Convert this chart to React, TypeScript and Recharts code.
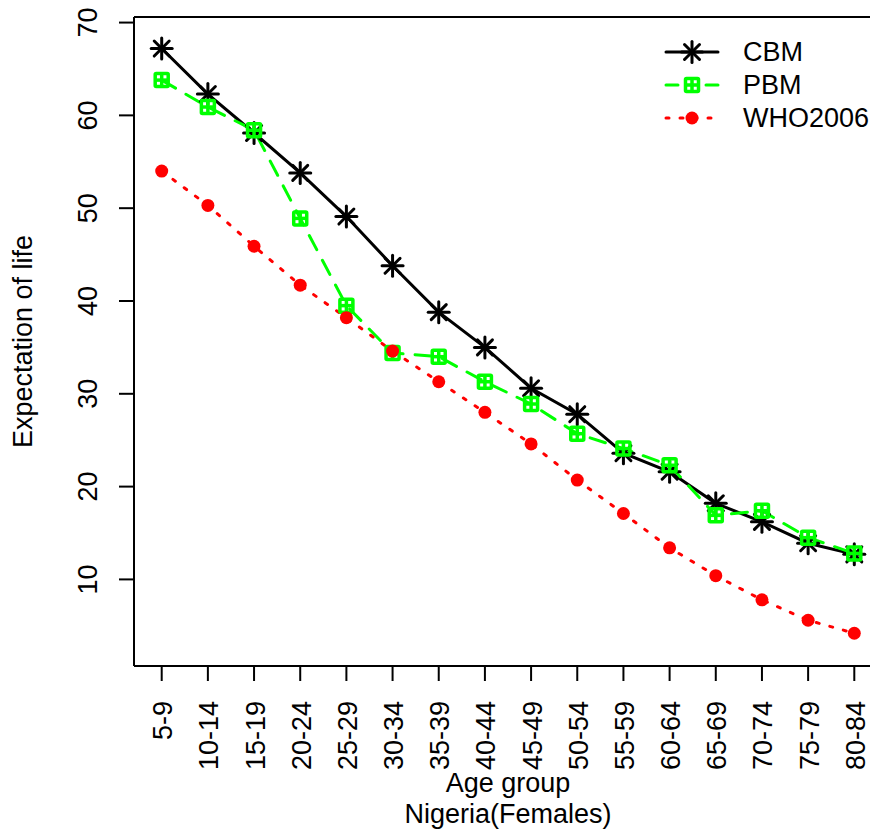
import { LineChart, Line, XAxis, YAxis, ReferenceLine, Legend, Label } from "recharts";

const ageGroups = [
  "5-9", "10-14", "15-19", "20-24", "25-29", "30-34", "35-39", "40-44",
  "45-49", "50-54", "55-59", "60-64", "65-69", "70-74", "75-79", "80-84",
];
const cbm = [67.2, 62.3, 58.1, 53.8, 49.1, 43.8, 38.8, 35.0, 30.6, 27.8, 23.6, 21.6, 18.2, 16.2, 13.9, 12.7];
const pbm = [63.8, 60.9, 58.4, 48.9, 39.5, 34.4, 34.0, 31.3, 28.9, 25.7, 24.1, 22.3, 16.9, 17.4, 14.5, 12.8];
const who2006 = [54.0, 50.3, 45.9, 41.7, 38.2, 34.6, 31.3, 28.0, 24.6, 20.7, 17.1, 13.4, 10.4, 7.8, 5.6, 4.2];
const yTicks = [10, 20, 30, 40, 50, 60, 70];
const xTicks = ageGroups.map((_, i) => i + 1);

const seriesNames = ["CBM", "PBM", "WHO2006"];

const FONT = "'Liberation Sans', Arial, Helvetica, sans-serif";
const BLACK = "#000000";
const GREEN = "#00ff00";
const RED = "#ff0000";

const data = ageGroups.map((g, i) => ({
  pos: i + 1,
  group: g,
  CBM: cbm[i],
  PBM: pbm[i],
  WHO2006: who2006[i],
}));

const Star = ({ cx, cy }: { cx: number; cy: number }) => (
  <g stroke={BLACK} strokeWidth={3} strokeLinecap="round">
    <line x1={cx - 10.5} y1={cy} x2={cx + 10.5} y2={cy} />
    <line x1={cx} y1={cy - 10.5} x2={cx} y2={cy + 10.5} />
    <line x1={cx - 7.5} y1={cy - 7.5} x2={cx + 7.5} y2={cy + 7.5} />
    <line x1={cx - 7.5} y1={cy + 7.5} x2={cx + 7.5} y2={cy - 7.5} />
  </g>
);

const BoxPlus = ({ cx, cy }: { cx: number; cy: number }) => (
  <g stroke={GREEN} strokeWidth={3.5} fill="none">
    <rect x={cx - 6.5} y={cy - 6.5} width={13} height={13} rx={1} />
    <line x1={cx - 6.5} y1={cy} x2={cx + 6.5} y2={cy} />
    <line x1={cx} y1={cy - 6.5} x2={cx} y2={cy + 6.5} />
  </g>
);

const Dot = ({ cx, cy }: { cx: number; cy: number }) => (
  <circle cx={cx} cy={cy} r={6.5} fill={RED} stroke="none" />
);

const renderMarker = (name: string, cx: number, cy: number) => {
  if (name === "CBM") return <Star cx={cx} cy={cy} />;
  if (name === "PBM") return <BoxPlus cx={cx} cy={cy} />;
  return <Dot cx={cx} cy={cy} />;
};

const lineStyle: Record<string, { stroke: string; dash?: string }> = {
  CBM: { stroke: BLACK },
  PBM: { stroke: GREEN, dash: "16 12" },
  WHO2006: { stroke: RED, dash: "3 11" },
};

const YTick = (props: any) => {
  const { x, y, payload } = props;
  return (
    <text
      transform={`translate(${x - 31},${y}) rotate(-90)`}
      textAnchor="middle"
      dy="0.35em"
      fontSize={27}
      fontFamily={FONT}
      fill={BLACK}
    >
      {payload.value}
    </text>
  );
};

const XTick = (props: any) => {
  const { x, y, payload } = props;
  return (
    <text
      transform={`translate(${x + 1},${y + 20}) rotate(-90)`}
      textAnchor="end"
      dy="0.35em"
      fontSize={27}
      fontFamily={FONT}
      fill={BLACK}
    >
      {ageGroups[payload.value - 1]}
    </text>
  );
};

const LegendBox = () => (
  <svg width={230} height={110}>
    {seriesNames.map((name, i) => {
      const y = 22 + i * 33;
      const s = lineStyle[name];
      return (
        <g key={name}>
          <line
            x1={16}
            x2={68}
            y1={y}
            y2={y}
            stroke={s.stroke}
            strokeWidth={3}
            strokeDasharray={name === "PBM" ? "12 28" : s.dash}
            strokeLinecap="round"
          />
          {renderMarker(name, 42, y)}
          <text x={93} y={y} dy="0.35em" fontSize={27} fontFamily={FONT} fill={BLACK}>
            {name}
          </text>
        </g>
      );
    })}
  </svg>
);

export default function App() {
  const yMax = 70.6;
  return (
    <div style={{ position: "absolute", left: 0, top: 0, width: 870, height: 833, overflow: "hidden", background: "#fff" }}>
      <LineChart
        width={900}
        height={833}
        data={data}
        margin={{ top: 17, right: 18, bottom: 0, left: 0 }}
      >
        <XAxis
          dataKey="pos"
          type="number"
          domain={[0.4, 16.6]}
          ticks={xTicks}
          interval={0}
          height={167}
          tickSize={15}
          tickMargin={0}
          tick={<XTick />}
          tickLine={{ stroke: BLACK, strokeWidth: 2 }}
          axisLine={{ stroke: BLACK, strokeWidth: 2 }}
          allowDataOverflow
        >
          <Label
            content={({ viewBox }: any) => (
              <g fontSize={27} fontFamily={FONT} fill={BLACK}>
                <text x={viewBox.x + viewBox.width / 2} y={viewBox.y + 126} textAnchor="middle">
                  Age group
                </text>
                <text x={viewBox.x + viewBox.width / 2} y={viewBox.y + 157} textAnchor="middle">
                  Nigeria(Females)
                </text>
              </g>
            )}
          />
        </XAxis>
        <YAxis
          type="number"
          domain={[0.67, yMax]}
          ticks={yTicks}
          interval={0}
          width={134}
          tickSize={15}
          tickMargin={0}
          tick={<YTick />}
          tickLine={{ stroke: BLACK, strokeWidth: 2 }}
          axisLine={{ stroke: BLACK, strokeWidth: 2 }}
          allowDataOverflow
        >
          <Label
            content={({ viewBox }: any) => (
              <text
                transform={`translate(${viewBox.x + 23},${viewBox.y + viewBox.height / 2}) rotate(-90)`}
                textAnchor="middle"
                dy="0.35em"
                fontSize={27}
                fontFamily={FONT}
                fill={BLACK}
              >
                Expectation of life
              </text>
            )}
          />
        </YAxis>
        <ReferenceLine y={yMax} stroke={BLACK} strokeWidth={2} ifOverflow="visible" />
        {seriesNames.map((name) => (
          <Line
            key={name}
            dataKey={name}
            type="linear"
            stroke={lineStyle[name].stroke}
            strokeWidth={3}
            strokeDasharray={lineStyle[name].dash}
            strokeLinecap="round"
            dot={(p: any) => <g key={`${name}-${p.index}`}>{renderMarker(name, p.cx, p.cy)}</g>}
            activeDot={false}
            isAnimationActive={false}
          />
        ))}
        <Legend
          layout="vertical"
          align="center"
          verticalAlign="middle"
          content={() => <LegendBox />}
          wrapperStyle={{ position: "absolute", left: 650, top: 30, width: 230, height: 110 }}
        />
      </LineChart>
    </div>
  );
}
